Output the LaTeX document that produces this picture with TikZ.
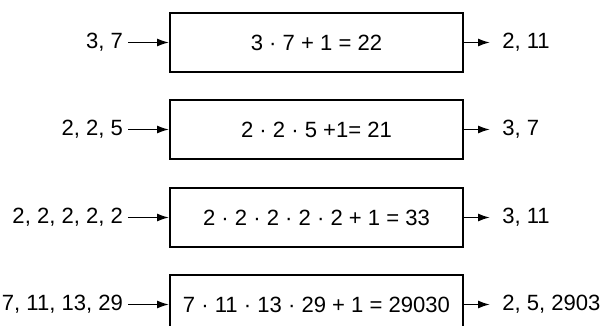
\documentclass[tikz,border=0pt]{standalone}
\usepackage{fontspec}
\setmainfont{Liberation Sans}
\usepackage{tikz}
\usetikzlibrary{arrows.meta, positioning}

\tikzset{
  prodbox/.style={draw, line width=1.3pt, minimum width=7.325cm, minimum height=1.475cm, inner sep=0pt},
  inlabel/.style={anchor=east, inner sep=0.12cm},
  outlabel/.style={anchor=west, inner sep=0.3cm},
  feed/.style={line width=1.2pt, -{Latex[length=3mm,width=2mm]}}
}

\begin{document}
\begin{tikzpicture}[font=\fontsize{15.7}{19}\selectfont]
                \clip (0,0) rectangle (15.125,-8.15);

                % Row 1
                \node[prodbox] (box1) at (7.9125,-1.0625) {3 · 7 + 1 = 22};
                \node[inlabel] (in1) at (3.2,-1.0625) {3, 7};
                \node[outlabel] (out1) at (12.25,-1.0625) {2, 11};
                \draw[feed] (in1) -- (box1);
                \draw[feed] (box1) -- (out1);

                % Row 2
                \node[prodbox] (box2) at (7.9125,-3.2375) {2 · 2 · 5 +1= 21};
                \node[inlabel] (in2) at (3.2,-3.2375) {2, 2, 5};
                \node[outlabel] (out2) at (12.25,-3.2375) {3, 7};
                \draw[feed] (in2) -- (box2);
                \draw[feed] (box2) -- (out2);

                % Row 3
                \node[prodbox] (box3) at (7.9125,-5.4375) {2 · 2 · 2 · 2 · 2 + 1 = 33};
                \node[inlabel] (in3) at (3.2,-5.4375) {2, 2, 2, 2, 2};
                \node[outlabel] (out3) at (12.25,-5.4375) {3, 11};
                \draw[feed] (in3) -- (box3);
                \draw[feed] (box3) -- (out3);

                % Row 4 (bottom edge runs off the page)
                \node[prodbox] (box4) at (7.9125,-7.6125) {7 · 11 · 13 · 29 + 1 = 29030};
                \node[inlabel] (in4) at (3.2,-7.6125) {7, 11, 13, 29};
                \node[outlabel] (out4) at (12.25,-7.6125) {2, 5, 2903};
                \draw[feed] (in4) -- (box4);
                \draw[feed] (box4) -- (out4);
\end{tikzpicture}
\end{document}
